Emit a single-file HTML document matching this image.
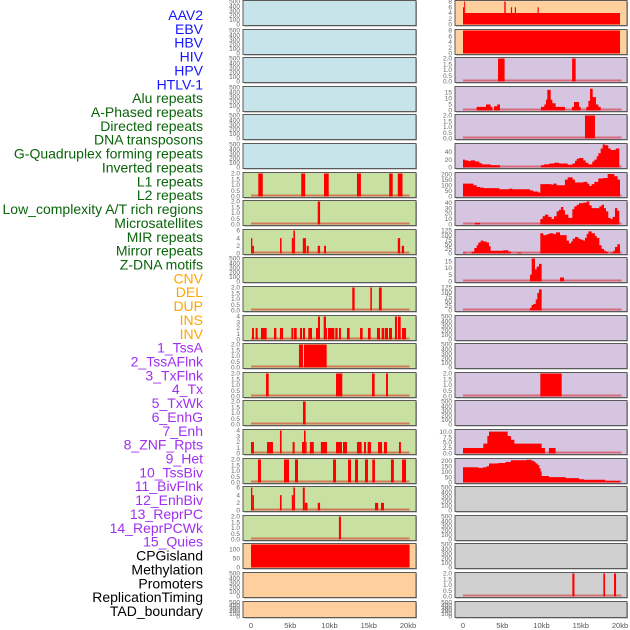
<!DOCTYPE html>
<html><head><meta charset="utf-8"><style>
body{margin:0;background:#fff;}
svg{display:block;font-family:"Liberation Sans",sans-serif;}
</style></head><body>
<svg id="chart" width="630" height="630" viewBox="0 0 630 630" xmlns="http://www.w3.org/2000/svg"></svg>
<script>
// ---------- labels ----------
const labelTexts = ["AAV2","EBV","HBV","HIV","HPV","HTLV-1",
"Alu repeats","A-Phased repeats","Directed repeats","DNA transposons","G-Quadruplex forming repeats","Inverted repeats","L1 repeats","L2 repeats","Low_complexity A/T rich regions","Microsatellites","MIR repeats","Mirror repeats","Z-DNA motifs",
"CNV","DEL","DUP","INS","INV",
"1_TssA","2_TssAFlnk","3_TxFlnk","4_Tx","5_TxWk","6_EnhG","7_Enh","8_ZNF_Rpts","9_Het","10_TssBiv","11_BivFlnk","12_EnhBiv","13_ReprPC","14_ReprPCWk","15_Quies",
"CPGisland","Methylation","Promoters","ReplicationTiming","TAD_boundary"];
const labelGroups = [6,13,5,15,5];
const groupColors = ["#1515ff","#0a640a","#ffa500","#a030f0","#000000"];
const xTickKb = [0,5,10,15,20];
const xTickText = ["0","5kb","10kb","15kb","20kb"];

// ---------- left column data (bars: starts/ends/values) ----------
const L6s=[0.93,6.4,9.3,13.5,17.6,18.7], L6e=[1.5,6.9,9.9,14.0,18.05,19.3], L6v=[2,2,2,2,2,2];
const L7s=[8.5], L7e=[8.8], L7v=[2];
const L8s=[0,0.17,3.7,5.2,5.4,6.6,7.1,8.5,9.3,18.7,19.2], L8e=[0.17,0.38,3.9,5.4,5.6,7.0,7.35,8.8,9.55,19.0,19.5], L8v=[4,2,4,4,6,4,2,2,2,4,2];
const L10s=[12.9,15.2,16.3], L10e=[13.2,15.4,16.65], L10v=[2,2,2];
const L11s=[0.13,0.59,1.27,2.93,3.69,5.14,5.48,6.24,6.62,7.30,8.28,8.53,9.26,9.55,9.81,10.74,11.21,12.23,13.89,14.90,16.05,16.64,17.07,17.58,18.34,18.72,19.24];
const L11e=[0.38,0.85,1.99,3.23,4.08,5.39,5.82,6.50,6.88,7.77,8.53,8.79,9.55,9.60,10.62,11.04,11.46,12.57,14.22,15.24,16.43,16.98,17.45,17.96,18.60,19.07,19.75];
const L11v=[2,2,2,2,2,2,2,2,2,2,2,4,4,2,2,2,2,2,2,2,2,2,2,2,4,4,2];
const L12s=[6.11,6.75], L12e=[6.62,9.64], L12v=[2,2];
const L13s=[1.91,10.83,15.41,17.2], L13e=[2.25,11.63,15.75,17.45], L13v=[2,2,2,2];
const L14s=[6.62], L14e=[6.96], L14v=[2];
const L15s=[0.0,2.04,3.69,5.3,6.5,6.75,6.96,7.5,8.9,10.83,11.72,13.5,14.4,14.86,16.18,16.94,18.85];
const L15e=[0.38,2.8,3.9,5.56,6.75,6.96,7.0,8.0,9.68,11.59,12.23,14.1,14.65,15.29,16.69,17.32,19.1];
const L15v=[2,2,4,2,2,4,2,2,2,2,2,2,2,2,2,2,2];
const L16s=[0.89,4.2,5.6,10.45,12.36,13.25,14.52,15.45,17.83,19.24], L16e=[1.27,4.84,5.99,10.83,12.74,13.63,14.9,15.79,18.2,19.75], L16v=[2,2,2,2,2,2,2,2,2,2];
const L17s=[0,0.17,3.69,5.2,5.4,6.6,6.85,8.5,15.8,16.56], L17e=[0.17,0.38,3.9,5.4,5.6,6.85,7.2,8.8,16.2,16.94], L17v=[6,4,4,4,6,6,2,2,2,2];
const L18s=[11.2], L18e=[11.46], L18v=[2];
const L19s=[0], L19e=[20.2], L19v=[125];

// ---------- right column data ----------
const R0s=[0,0,0.15,5.26,6.1,6.6,9.5], R0e=[20,0.15,0.25,5.44,6.25,6.75,9.65], R0v=[4,6,8,8,6,6,6];
const R1s=[0], R1e=[20], R1v=[8];
const R2s=[4.46,13.9], R2e=[5.3,14.35], R2v=[2,2];
// step series: edges / values
const R3edges=[1.74,2.93,3.52,3.74,3.95,4.37,4.71,9.93,10.36,10.57,10.74,11.17,11.38,11.80,13.0,13.88,14.14,14.78,14.99,15.71,15.97,16.18,16.52,16.94,17.24,17.54];
const R3vals=[3,5,3,0,3.5,5,0,3,5,9,17,9,6,3,0,3,7,3,0,3,8,18,11,5,3];
const R4s=[15.54], R4e=[16.81], R4v=[2];
const R5edges=[0,0.25,0.68,0.98,1.53,2.08,2.38,3.52,4.71,9.93,10.32,11.0,11.63,12.23,13.33,13.93,14.27,14.48,14.78,15.33,15.63,15.97,16.47,16.73,17.03,17.24,17.54,17.79,18.09,18.51,18.81,19.15,19.45,19.91];
const R5vals=[20,18,16,18,15,11,8,6,0,6,8,10,12,10,7,10,17,22,24,18,12,8,15,20,28,36,48,58,56,48,44,44,48];
const R6edges=[0,1.32,1.74,2.17,2.59,4.63,5.9,6.28,8.53,8.96,9.6,9.85,11.29,11.51,11.93,12.99,13.33,13.97,14.27,15.33,15.84,16.09,16.39,16.73,17.24,17.88,18.43,19.28,19.7,20.0];
const R6vals=[115,100,85,80,75,65,70,65,55,45,35,110,105,115,100,150,170,150,125,130,115,95,110,130,160,165,200,180,150];
const R7edges=[1.53,2.17,9.85,10.15,10.44,10.87,11.29,11.59,11.93,12.23,12.48,12.78,12.99,13.42,13.93,14.18,14.48,14.78,15.33,15.75,16.09,16.39,17.37,17.66,17.96,18.21,18.51,18.81,19.06,19.36,19.66,19.91];
const R7vals=[3,0,10,15,18,14,10,15,24,27,32,26,18,12,28,33,36,39,40,42,35,30,33,36,30,24,12,10,14,30,25];
const R8edges=[0,0.38,1.1,1.44,1.74,1.95,2.25,2.59,3.01,3.31,3.52,5.14,5.77,6.11,6.88,7.47,9.85,10.23,10.66,11.0,11.51,11.85,12.36,13.2,13.5,13.76,13.97,14.27,14.69,14.99,15.33,15.54,15.75,15.97,16.39,16.81,17.03,17.37,17.66,17.96,18.21,18.51,18.85,19.15,19.36,19.66,20.0];
const R8vals=[5,0,10,30,45,60,70,65,60,40,15,18,10,0,5,0,110,100,105,110,105,115,100,70,55,65,80,90,80,75,70,85,105,120,110,95,85,45,25,15,10,0,5,15,35,50];
const R9edges=[8.53,8.75,9.17,9.38,9.68,10.02,12.36,12.87];
const R9vals=[5,17,9,11,13,0,3];
const R10edges=[8.53,8.75,8.96,9.26,9.47,9.68,10.02];
const R10vals=[15,30,35,60,95,115];
const R13s=[9.85], R13e=[12.57], R13v=[2];
const R15edges=[0,2.59,3.1,3.31,5.69,6.11,6.54,10.02,10.44,10.95,11.8];
const R15vals=[2.5,4.5,8,10,8,6.3,4.5,2.5,0,2.5];
const R16edges=[0,1.95,2.59,3.01,3.31,4.5,5.43,6.11,8.11,8.75,9.04,9.26,9.51,9.72,9.89,10.02,10.95,13.08,14.78,15.41,18.09,20.0];
const R16vals=[140,135,140,150,175,180,190,205,210,200,190,175,160,130,100,60,50,40,30,25,15];
const R20s=[13.93,17.88,19.24], R20e=[14.2,18.1,19.5], R20v=[2,2,2];

// ---------- panel configs ----------
const T500=[0,100,200,300,400,500], T2=[0,0.5,1,1.5,2], T4=[0,1,2,3,4], T6=[0,2,4,6], T8=[0,2,4,6,8];
const BLUE="#c8e4eb", GREEN="#c8e0a2", LAV="#d6c5e0", PEACH="#ffcf9e", GRAY="#d0d0d0";
const leftPanels=[
 {bg:BLUE},{bg:BLUE},{bg:BLUE},{bg:BLUE},{bg:BLUE},{bg:BLUE},
 {bg:GREEN,ymax:2,ticks:T2,s:L6s,e:L6e,v:L6v},
 {bg:GREEN,ymax:2,ticks:T2,s:L7s,e:L7e,v:L7v},
 {bg:GREEN,ymax:6,ticks:T6,s:L8s,e:L8e,v:L8v},
 {bg:GREEN},
 {bg:GREEN,ymax:2,ticks:T2,s:L10s,e:L10e,v:L10v},
 {bg:GREEN,ymax:4,ticks:T4,s:L11s,e:L11e,v:L11v},
 {bg:GREEN,ymax:2,ticks:T2,s:L12s,e:L12e,v:L12v},
 {bg:GREEN,ymax:2,ticks:T2,s:L13s,e:L13e,v:L13v},
 {bg:GREEN,ymax:2,ticks:T2,s:L14s,e:L14e,v:L14v},
 {bg:GREEN,ymax:4,ticks:T4,s:L15s,e:L15e,v:L15v},
 {bg:GREEN,ymax:2,ticks:T2,s:L16s,e:L16e,v:L16v},
 {bg:GREEN,ymax:6,ticks:T6,s:L17s,e:L17e,v:L17v},
 {bg:GREEN,ymax:2,ticks:T2,s:L18s,e:L18e,v:L18v},
 {bg:PEACH,ymax:125,ticks:[0,50,100],s:L19s,e:L19e,v:L19v,nobase:true},
 {bg:PEACH},{bg:PEACH}
];
const rightPanels=[
 {bg:PEACH,ymax:8,ticks:T8,s:R0s,e:R0e,v:R0v,nobase:true},
 {bg:PEACH,ymax:8,ticks:T8,s:R1s,e:R1e,v:R1v,nobase:true},
 {bg:LAV,ymax:2,ticks:T2,s:R2s,e:R2e,v:R2v},
 {bg:LAV,ymax:19,ticks:[0,5,10,15],edges:R3edges,vals:R3vals},
 {bg:LAV,ymax:2,ticks:T2,s:R4s,e:R4e,v:R4v},
 {bg:LAV,ymax:58,ticks:[0,20,40],edges:R5edges,vals:R5vals},
 {bg:LAV,ymax:205,ticks:[0,50,100,150,200],edges:R6edges,vals:R6vals},
 {bg:LAV,ymax:42,ticks:[0,10,20,30,40],edges:R7edges,vals:R7vals},
 {bg:LAV,ymax:125,ticks:[0,25,50,75,100,125],edges:R8edges,vals:R8vals},
 {bg:LAV,ymax:17,ticks:[0,5,10,15],edges:R9edges,vals:R9vals},
 {bg:LAV,ymax:125,ticks:[0,25,50,75,100,125],edges:R10edges,vals:R10vals},
 {bg:LAV},{bg:LAV},
 {bg:LAV,ymax:2,ticks:T2,s:R13s,e:R13e,v:R13v},
 {bg:LAV},
 {bg:LAV,ymax:10.5,ticks:[0,2.5,5,7.5,10],edges:R15edges,vals:R15vals},
 {bg:LAV,ymax:212,ticks:[0,50,100,150,200],edges:R16edges,vals:R16vals},
 {bg:GRAY},{bg:GRAY},{bg:GRAY},
 {bg:GRAY,ymax:2,ticks:T2,s:R20s,e:R20e,v:R20v},
 {bg:GRAY}
];

const NS="http://www.w3.org/2000/svg";
const svg=document.getElementById('chart');
function mk(tag,attrs,parent){const el=document.createElementNS(NS,tag);for(const k in attrs)el.setAttribute(k,attrs[k]);(parent||svg).appendChild(el);return el;}

// labels
let li=0;
labelGroups.forEach((n,g)=>{for(let j=0;j<n;j++){
  const t=mk('text',{x:203,y:15+li*13.86+5,'text-anchor':'end','font-size':14,fill:groupColors[g]});
  t.textContent=labelTexts[li];
  
  
  li++;}});

function fmt(v,ticks){const dec=ticks.some(t=>t%1!==0)||(ticks[ticks.length-1]===2&&ticks.length===5);return dec?v.toFixed(1):String(v);}

function drawColumn(panels,x0,x1,zeroX,side){
  const kbPx=7.85;
  const xs=kb=>zeroX+kb*kbPx;
  panels.forEach((p,i)=>{
    const top=Math.round(i*28.6)+0.5, h=(i===21)?16:25;
    const g=mk('g',{});
    
    
    mk('rect',{x:x0+1,y:top+1,width:x1-x0,height:h,fill:'#a0a0a0'},g);
    mk('rect',{x:x0,y:top,width:x1-x0,height:h,fill:p.bg,stroke:'#5a5a5a','stroke-width':1},g);
    const bottom=top+h-1, ih=h-2;
    const ymax=p.ymax||500, ticks=p.ticks||T500;
    const ys=v=>bottom-v/ymax*ih;
    ticks.forEach(tv=>{
      const t=mk('text',{x:x0-3,y:ys(tv)+2.2,'text-anchor':'end','font-size':6.5,fill:'#666'},g);
      t.textContent=fmt(tv,ticks);
      
      
    });
    if(p.s||p.edges){
      if(!p.nobase){
        const b=mk('rect',{x:xs(0),y:bottom-2,width:xs(20.2)-xs(0),height:2,fill:'rgba(215,0,0,0.45)'},g);
        
        
      }
      if(p.s){
        p.s.forEach((s,k)=>{
          const r=mk('rect',{x:xs(s),y:ys(p.v[k]),width:Math.max(1,xs(p.e[k])-xs(s)),height:bottom-ys(p.v[k]),fill:'#ff0000'},g);
          
          
        });
      } else {
        let d='M'+xs(p.edges[0])+','+bottom;
        p.vals.forEach((v,k)=>{d+=' L'+xs(p.edges[k])+','+ys(v)+' L'+xs(p.edges[k+1])+','+ys(v);});
        d+=' L'+xs(p.edges[p.edges.length-1])+','+bottom+' Z';
        const a=mk('path',{d:d,fill:'#ff0000'},g);
        
        
      }
    }
  });
  xTickKb.forEach((kb,k)=>{
    const t=mk('text',{x:xs(kb),y:628,'text-anchor':'middle','font-size':7.5,fill:'#555'});
    t.textContent=xTickText[k];
    
    
  });
}
drawColumn(leftPanels,243,416,251,'left');
drawColumn(rightPanels,455,627,463,'right');
</script>
</body></html>
